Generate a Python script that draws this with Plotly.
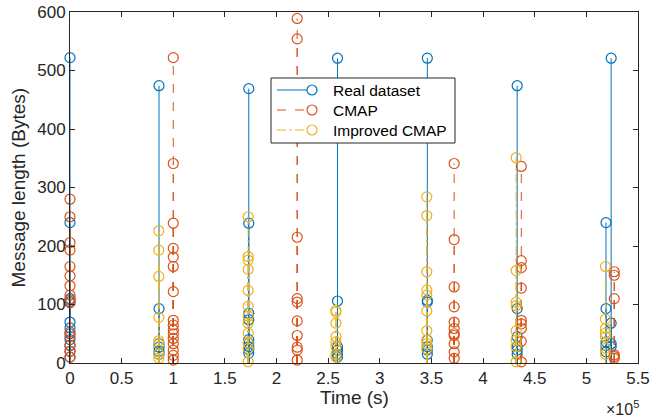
import plotly.graph_objects as go

# ---- data (time clusters in seconds, message lengths in bytes) ----
real_times = [0, 0.862e5, 1.731e5, 2.59e5, 3.46e5, 4.33e5, 5.19e5, 5.24e5]
real_values = [
    [522, 240, 110, 105, 70, 60, 50, 40, 30, 20, 10],
    [474, 93, 33, 27, 20, 15],
    [469, 239, 85, 74, 40, 34, 28, 23, 17],
    [521, 106, 28, 22, 15, 10],
    [521, 107, 104, 39, 28, 22, 15],
    [474, 93, 45, 28, 22, 15],
    [240, 93, 36, 30, 19],
    [521, 68, 33, 28],
]

cmap_times = [0, 1.0e5, 2.2e5, 3.72e5, 4.37e5, 5.27e5]
cmap_values = [
    [280, 250, 206, 193, 165, 149, 132, 116, 108, 103, 53, 45, 30, 20, 10],
    [522, 341, 239, 196, 181, 165, 122, 73, 65, 57, 50, 42, 33, 22, 13, 5],
    [589, 554, 215, 110, 104, 72, 47, 27, 22, 5],
    [341, 211, 130, 96, 70, 59, 50, 47, 33, 19, 8],
    [336, 175, 163, 128, 73, 67, 59, 37, 2],
    [156, 150, 110, 14, 11, 8],
]

imp_times = [-0.02e5, 0.86e5, 1.725e5, 2.575e5, 3.455e5, 4.32e5, 5.185e5]
imp_values = [
    [481, 307, 168, 155, 132, 79, 69, 42, 20, 5],
    [226, 193, 148, 78, 38, 32, 15, 8],
    [250, 182, 176, 160, 124, 97, 80, 68, 51, 34, 25, 2],
    [90, 87, 68, 45, 36, 28, 15, 10],
    [284, 252, 156, 125, 116, 89, 55, 39, 33, 24],
    [351, 158, 104, 98, 55, 39, 28, 2],
    [165, 75, 59, 51, 45, 25, 15],
]

x_ticks = [0, 0.5e5, 1e5, 1.5e5, 2e5, 2.5e5, 3e5, 3.5e5, 4e5, 4.5e5, 5e5, 5.5e5]
x_ticktext = ["0", "0.5", "1", "1.5", "2", "2.5", "3", "3.5", "4", "4.5", "5", "5.5"]
y_ticks = [0, 100, 200, 300, 400, 500, 600]

series_names = ["Real dataset", "CMAP", "Improved CMAP"]
series_times = [real_times, cmap_times, imp_times]
series_values = [real_values, cmap_values, imp_values]
series_colors = ["#0072BD", "#D95319", "#EDB120"]
series_dashes = ["solid", "dash", "dashdot"]

FONT = "Liberation Sans, Arial, Helvetica, sans-serif"
INK = "#262626"

FIG_W, FIG_H = 650, 418
ML, MR, MT, MB = 70, 12, 12, 55
PW = FIG_W - ML - MR   # 568
PH = FIG_H - MT - MB   # 351

def px_x(x):  # window pixel -> paper
    return (x - ML) / PW

def px_y(y):
    return (FIG_H - MB - y) / PH

fig = go.Figure()
for name, times, vals, color, dash in zip(series_names, series_times, series_values,
                                           series_colors, series_dashes):
    xs, ys, mx, my = [], [], [], []
    for t, vlist in zip(times, vals):
        for v in vlist:
            xs += [t, t, None]
            ys += [0, v, None]
            mx.append(t)
            my.append(v)
    fig.add_trace(go.Scatter(x=xs, y=ys, mode="lines", showlegend=False,
                             line=dict(color=color, width=1, dash=dash),
                             hoverinfo="skip", cliponaxis=False))
    fig.add_trace(go.Scatter(x=mx, y=my, mode="markers", name=name, showlegend=False,
                             marker=dict(symbol="circle-open", size=10,
                                         color=color, line=dict(width=1.2, color=color)),
                             cliponaxis=False))

axis_common = dict(showline=True, linecolor=INK, linewidth=1, mirror="ticks",
                   ticks="inside", ticklen=5, tickcolor=INK, showgrid=False,
                   zeroline=False, automargin=False, ticklabeloverflow="allow",
                   tickfont=dict(family=FONT, size=17, color=INK))

fig.update_xaxes(range=[0, 5.5e5], tickvals=x_ticks, ticktext=x_ticktext, **axis_common)
fig.update_yaxes(range=[0, 600], tickvals=y_ticks, **axis_common)

fig.add_annotation(text="Time (s)", xref="paper", yref="paper", x=0.5, y=px_y(397),
                   xanchor="center", yanchor="middle", showarrow=False,
                   font=dict(family=FONT, size=19, color=INK))
fig.add_annotation(text="Message length (Bytes)", xref="paper", yref="paper",
                   x=px_x(18), y=0.5, xanchor="center", yanchor="middle",
                   textangle=-90, showarrow=False,
                   font=dict(family=FONT, size=19, color=INK))
fig.add_annotation(text="×10<sup>5</sup>", xref="paper", yref="paper",
                   x=px_x(641), y=px_y(396), xanchor="right", yanchor="top",
                   showarrow=False, font=dict(family=FONT, size=16, color=INK))

# ---- legend box drawn by hand (MATLAB style: line sample with marker at its end) ----
shapes = [dict(type="rect", xref="paper", yref="paper", layer="above",
               x0=px_x(271), x1=px_x(455), y0=px_y(143), y1=px_y(78),
               line=dict(color=INK, width=1), fillcolor="white")]
row_y = [90, 110, 130]
r_x, r_y = 5 / PW, 5 / PH
for name, color, dash, ry in zip(series_names, series_colors, series_dashes, row_y):
    shapes.append(dict(type="line", xref="paper", yref="paper", layer="above",
                       x0=px_x(277), x1=px_x(312), y0=px_y(ry), y1=px_y(ry),
                       line=dict(color=color, width=1, dash=dash)))
    shapes.append(dict(type="circle", xref="paper", yref="paper", layer="above",
                       x0=px_x(312) - r_x, x1=px_x(312) + r_x,
                       y0=px_y(ry) - r_y, y1=px_y(ry) + r_y,
                       line=dict(color=color, width=1.2), fillcolor="white"))
    fig.add_annotation(text=name, xref="paper", yref="paper", x=px_x(331), y=px_y(ry),
                       xanchor="left", yanchor="middle", showarrow=False,
                       font=dict(family=FONT, size=15.5, color="#000000"))

fig.update_layout(
    width=FIG_W, height=FIG_H,
    margin=dict(l=ML, r=MR, t=MT, b=MB, autoexpand=False),
    plot_bgcolor="white", paper_bgcolor="white",
    showlegend=False,
    shapes=shapes,
)

fig.write_html("out.html", config={"displayModeBar": False},
               post_script="document.body.style.margin='0';document.body.style.overflow='hidden';")
